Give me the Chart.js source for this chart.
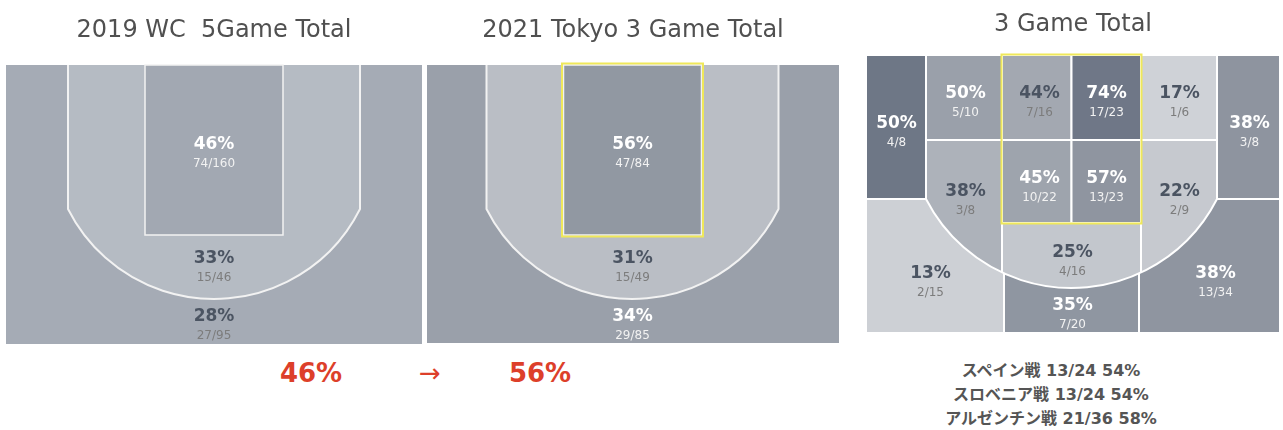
<!DOCTYPE html>
<html lang="ja">
<head>
<meta charset="utf-8">
<title>Paint FG%</title>
<script src="https://cdn.jsdelivr.net/npm/chart.js@4.4.1/dist/chart.umd.min.js"></script>
<style>
  html, body { margin: 0; padding: 0; background: #fff; }
  body { position: relative; width: 1283px; height: 430px; overflow: hidden; }
  canvas { position: absolute; top: 0; }
  #c2019 { left: 6px; }
  #c2021 { left: 427px; }
  #cZones { left: 866px; }
  .big { position: absolute; width: 120px; top: 358px; text-align: center; color: #dd3f2a;
         font: bold 26px "DejaVu Sans", sans-serif; line-height: 30px; }
  #games { position: absolute; left: 901px; top: 359px; width: 300px; text-align: center; color: #555;
           font: bold 16px "DejaVu Sans", "Noto Sans CJK JP", sans-serif; line-height: 24px; }
</style>
</head>
<body>
<canvas id="c2019" width="416" height="344"></canvas>
<canvas id="c2021" width="412" height="343"></canvas>
<canvas id="cZones" width="414" height="333"></canvas>
<div class="big" id="from" style="left:251px"></div>
<div class="big" style="left:370px;font-weight:normal">→</div>
<div class="big" id="to" style="left:480px"></div>
<div id="games"></div>

<script>
// court zones: paint, mid-range, three
const courtZones = ['Paint', 'Mid', '3PT'];
const made2019 = [74, 15, 27];
const att2019 = [160, 46, 95];
const pct2019 = [46, 33, 28];
const made2021 = [47, 15, 29];
const att2021 = [84, 49, 85];
const pct2021 = [56, 31, 34];

// 3 game total, by zone
const zoneNames = ['L corner', 'L wing 2P', 'Paint TL', 'Paint TR', 'R wing 2P', 'R corner',
                   'L mid', 'Paint BL', 'Paint BR', 'R mid', 'Top 2P', 'L 3P', 'Top 3P', 'R 3P'];
const zoneMade = [4, 5, 7, 17, 1, 3, 3, 10, 13, 2, 4, 2, 7, 13];
const zoneAtt = [8, 10, 16, 23, 6, 8, 8, 22, 23, 9, 16, 15, 20, 34];
const zonePct = [50, 50, 44, 74, 17, 38, 38, 45, 57, 22, 25, 13, 35, 38];

// paint by game
const gameNames = ['スペイン戦', 'スロベニア戦', 'アルゼンチン戦'];
const gameMade = [13, 13, 21];
const gameAtt = [24, 24, 36];
const gamePct = [54, 54, 58];

// ---- layout (court units = px) ----
const COURT = { paintHalf: 69, paintDepth: 170, arcHalf: 146, arcStraight: 144, arcBottom: 234 };
const courtAnchors = [[0, 78], [0, 192], [0, 250]];

const GRID = { corner: 145.5, lane: 69.5, lane3: 67.5, wing: 85, paint: 168, arcY: 144, arcBottom: 233, left: -205.5, right: 208.5, h: 278 };
const G = GRID;
const zoneRects = [
  [G.left, 0, -G.corner, G.arcY], [-G.corner, 0, -G.lane, G.wing], [-G.lane, 0, 0, G.wing],
  [0, 0, G.lane, G.wing], [G.lane, 0, G.corner, G.wing], [G.corner, 0, G.right, G.arcY],
  [-G.corner, G.wing, -G.lane, G.arcBottom], [-G.lane, G.wing, 0, G.paint], [0, G.wing, G.lane, G.paint],
  [G.lane, G.wing, G.corner, G.arcBottom], [-G.lane, G.paint, G.lane, G.arcBottom],
  [G.left, G.arcY, -G.lane3, G.h], [-G.lane3, G.arcY, G.lane3, G.h], [G.lane3, G.arcY, G.right, G.h]
];
const zoneInside = [false, true, true, true, true, false, true, true, true, true, true, false, false, false];
const zoneAnchors = [[-175, 67], [-106, 37], [-32, 37], [35, 37], [108, 37], [178, 67],
                     [-106, 135], [-32, 122], [35, 122], [108, 135], [1, 196],
                     [-141, 217], [1, 249], [144, 217]];

// ---- styles ----
const colors2019 = ['#a2a8b2', '#b5bbc3', '#a5abb5'];
const colors2021 = ['#9198a2', '#babec5', '#9aa0aa'];
const light2019 = [true, false, false];
const light2021 = [true, false, true];
const zoneColors = ['#6e7786', '#9aa0aa', '#a3a8b1', '#6f7787', '#cfd2d7', '#8e949f', '#adb2ba',
                    '#9ea4ad', '#8f95a0', '#c6c9cf', '#c3c7cd', '#cdd0d5', '#8f96a1', '#8f95a0'];
const zoneLight = [true, true, false, true, false, true, false, true, true, false, false, false, true, true];
const YELLOW = '#efe85a';
const FONT = '"DejaVu Sans", sans-serif';

Chart.defaults.font.family = FONT;

// three point line: straight sides, then a circular arc through the bottom
function arcPath(ctx, px, py, half, straight, bottom) {
  const w = px(half) - px(0), drop = py(bottom) - py(straight);
  const r = (w * w + drop * drop) / (2 * drop);
  const cy = py(bottom) - r;
  const a = Math.atan2(py(straight) - cy, w);
  ctx.beginPath();
  ctx.moveTo(px(-half), py(0));
  ctx.lineTo(px(-half), py(straight));
  ctx.arc(px(0), cy, r, Math.PI - a, a, true);
  ctx.lineTo(px(half), py(0));
}

function rectPath(ctx, px, py, r, grow) {
  const g = grow || 0;
  ctx.beginPath();
  ctx.rect(px(r[0]) - g, py(r[1]) - g, px(r[2]) - px(r[0]) + 2 * g, py(r[3]) - py(r[1]) + 2 * g);
}

function courtPlugin(colors, highlight) {
  return {
    id: 'court',
    beforeDatasetsDraw(chart) {
      const { ctx, chartArea: a, scales: { x, y } } = chart;
      const px = v => x.getPixelForValue(v), py = v => y.getPixelForValue(v);
      const paint = [-COURT.paintHalf, 0, COURT.paintHalf, COURT.paintDepth];
      ctx.save();
      ctx.fillStyle = colors[2];
      ctx.fillRect(a.left, a.top, a.width, a.height);
      arcPath(ctx, px, py, COURT.arcHalf, COURT.arcStraight, COURT.arcBottom);
      ctx.fillStyle = colors[1];
      ctx.fill();
      ctx.strokeStyle = '#f2f2f2';
      ctx.lineWidth = 2;
      ctx.stroke();
      rectPath(ctx, px, py, paint);
      ctx.fillStyle = colors[0];
      ctx.fill();
      ctx.lineWidth = 1.5;
      ctx.stroke();
      if (highlight) {
        rectPath(ctx, px, py, paint, 1.5);
        ctx.strokeStyle = YELLOW;
        ctx.lineWidth = 2;
        ctx.stroke();
      }
      ctx.restore();
    }
  };
}

function zonesPlugin() {
  return {
    id: 'zones',
    beforeDatasetsDraw(chart) {
      const { ctx, scales: { x, y } } = chart;
      const px = v => x.getPixelForValue(v), py = v => y.getPixelForValue(v);
      const drawZone = i => {
        rectPath(ctx, px, py, zoneRects[i]);
        ctx.fillStyle = zoneColors[i];
        ctx.fill();
        ctx.strokeStyle = '#ffffff';
        ctx.lineWidth = 2;
        ctx.stroke();
      };
      ctx.save();
      zoneRects.forEach((r, i) => { if (!zoneInside[i]) drawZone(i); });
      ctx.save();
      arcPath(ctx, px, py, G.corner, G.arcY, G.arcBottom);
      ctx.clip();
      zoneRects.forEach((r, i) => { if (zoneInside[i]) drawZone(i); });
      ctx.restore();
      arcPath(ctx, px, py, G.corner, G.arcY, G.arcBottom);
      ctx.strokeStyle = '#ffffff';
      ctx.lineWidth = 2;
      ctx.stroke();
      rectPath(ctx, px, py, [-G.lane, 0, G.lane, G.paint], 0.5);
      ctx.strokeStyle = YELLOW;
      ctx.lineWidth = 2;
      ctx.stroke();
      ctx.restore();
    }
  };
}

function labelPlugin(pcts, made, att, light) {
  return {
    id: 'zoneLabels',
    afterDatasetsDraw(chart) {
      const ctx = chart.ctx;
      const meta = chart.getDatasetMeta(0);
      ctx.save();
      ctx.textAlign = 'center';
      ctx.textBaseline = 'alphabetic';
      meta.data.forEach((pt, i) => {
        ctx.font = 'bold 17px ' + FONT;
        ctx.fillStyle = light[i] ? '#ffffff' : '#4b5462';
        ctx.fillText(pcts[i] + '%', pt.x, pt.y + 17 * 0.3645);
        ctx.font = '12px ' + FONT;
        ctx.fillStyle = light[i] ? '#f2f2f2' : '#7c7c7c';
        ctx.fillText(made[i] + '/' + att[i], pt.x, pt.y + 19.5 + 12 * 0.3645);
      });
      ctx.restore();
    }
  };
}

function makeChart(id, title, anchors, xMin, xMax, h, titlePad, plugins) {
  return new Chart(document.getElementById(id), {
    type: 'scatter',
    data: {
      datasets: [{ data: anchors.map(a => ({ x: a[0], y: a[1] })), pointRadius: 0 }]
    },
    options: {
      responsive: false,
      animation: false,
      events: [],
      layout: { padding: 0 },
      plugins: {
        legend: { display: false },
        tooltip: { enabled: false },
        title: {
          display: true,
          text: title,
          color: '#505050',
          font: { family: FONT, size: 24, weight: 'normal', lineHeight: 1.2 },
          padding: titlePad
        }
      },
      scales: {
        x: { type: 'linear', display: false, min: xMin, max: xMax },
        y: { type: 'linear', display: false, min: 0, max: h, reverse: true }
      }
    },
    plugins: plugins
  });
}

makeChart('c2019', '2019 WC  5Game Total', courtAnchors, -208, 208, 279, { top: 16, bottom: 20.2 },
  [courtPlugin(colors2019, false), labelPlugin(pct2019, made2019, att2019, light2019)]);

makeChart('c2021', '2021 Tokyo 3 Game Total', courtAnchors, -205.5, 206.5, 278, { top: 16, bottom: 20.2 },
  [courtPlugin(colors2021, true), labelPlugin(pct2021, made2021, att2021, light2021)]);

makeChart('cZones', '3 Game Total', zoneAnchors, G.left, G.right, G.h, { top: 10.5, bottom: 15.7 },
  [zonesPlugin(), labelPlugin(zonePct, zoneMade, zoneAtt, zoneLight)]);

document.getElementById('from').textContent = pct2019[0] + '%';
document.getElementById('to').textContent = pct2021[0] + '%';
document.getElementById('games').innerHTML = gameNames
  .map((g, i) => g + ' ' + gameMade[i] + '/' + gameAtt[i] + ' ' + gamePct[i] + '%')
  .join('<br>');
</script>
</body>
</html>
